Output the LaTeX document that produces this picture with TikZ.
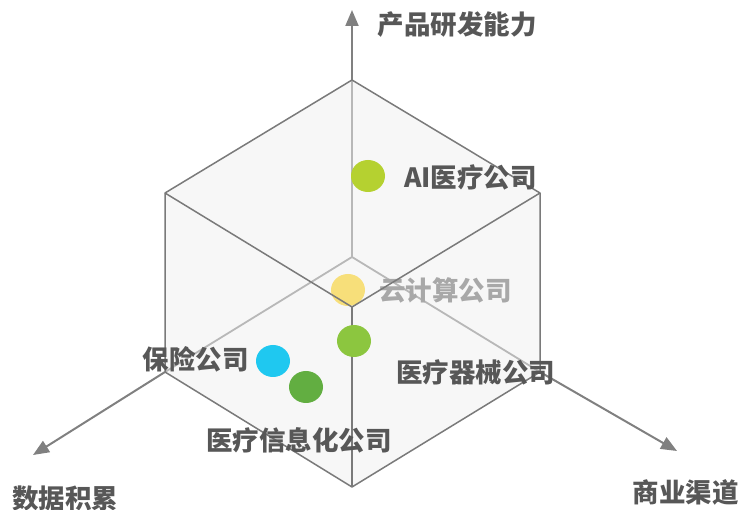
\documentclass[tikz,border=0pt]{standalone}
\usepackage{fontspec}
\newfontfamily\cjk{Noto Sans CJK SC}
\usetikzlibrary{arrows.meta,shapes.geometric}
\definecolor{edgec}{HTML}{7A7A7A}
\definecolor{axisc}{HTML}{808080}
\definecolor{hidc}{HTML}{B8B8B8}
\definecolor{facec}{HTML}{F7F7F7}
\definecolor{txtc}{HTML}{575757}
\definecolor{txtlight}{HTML}{A8A8A8}
\definecolor{aic}{HTML}{B5D130}
\definecolor{cloudc}{HTML}{F7DF7A}
\definecolor{devc}{HTML}{8CC63F}
\definecolor{insc}{HTML}{1FC8F0}
\definecolor{infoc}{HTML}{62AE41}
\begin{document}
\begin{tikzpicture}[x=1pt,y=-1pt,
  dot/.style={ellipse, minimum width=34pt, minimum height=32pt, inner sep=0pt, draw=none},
  lbl/.style={font=\cjk\bfseries\fontsize{26.5}{26.5}\selectfont, text=txtc, inner sep=0pt},
  axisline/.style={draw=axisc, line width=2pt, -{Triangle[length=16pt,width=13pt]}},
  hidline/.style={draw=hidc, line width=1.8pt},
  edgeline/.style={draw=edgec, line width=1.5pt, line join=round}]
\useasboundingbox (0,0) rectangle (740,510);
% cube vertices
\coordinate (T) at (352,80);
\coordinate (UL) at (165,193);
\coordinate (UR) at (540,193);
\coordinate (F) at (352,307);
\coordinate (LL) at (165,372);
\coordinate (LR) at (540,372);
\coordinate (B) at (352,487);
\coordinate (K) at (352,257);
% axis tips
\coordinate (ZT) at (352,10);
\coordinate (XL) at (33,455);
\coordinate (XR) at (677,451);
% outer axes
\draw[axisline] (T) -- (ZT);
\draw[axisline] (LL) -- (XL);
\draw[axisline] (LR) -- (XR);
% cube face
\fill[facec] (T) -- (UR) -- (LR) -- (B) -- (LL) -- (UL) -- cycle;
% hidden axes inside the cube
\draw[hidline] (K) -- (T);
\draw[hidline] (K) -- (LL);
\draw[hidline] (K) -- (LR);
% cloud company behind the face
\node[dot, fill=cloudc] (cloud) at (348,290) {};
\node[lbl, text=txtlight, anchor=west] (cloudl) at (379,290) {云计算公司};
% visible edges
\draw[edgeline] (T) -- (UR) -- (LR) -- (B) -- (LL) -- (UL) -- cycle;
\draw[edgeline] (UL) -- (F) -- (UR);
\draw[edgeline] (F) -- (B);
% dots
\node[dot, fill=aic] (ai) at (368,176) {};
\node[dot, fill=devc] (dev) at (354,341) {};
\node[dot, fill=insc] (ins) at (273,361) {};
\node[dot, fill=infoc] (info) at (306,387) {};
% labels
\node[lbl] (zl) at (457,25) {产品研发能力};
\node[lbl, anchor=west] (ail) at (404,177) {AI医疗公司};
\node[lbl, anchor=west] (devl) at (396,372) {医疗器械公司};
\node[lbl, anchor=east] (insl) at (249,359) {保险公司};
\node[lbl, anchor=west] (infol) at (206,440) {医疗信息化公司};
\node[lbl, anchor=west] (xl) at (12,498) {数据积累};
\node[lbl, anchor=east] (xr) at (739,492) {商业渠道};
\end{tikzpicture}
\end{document}
